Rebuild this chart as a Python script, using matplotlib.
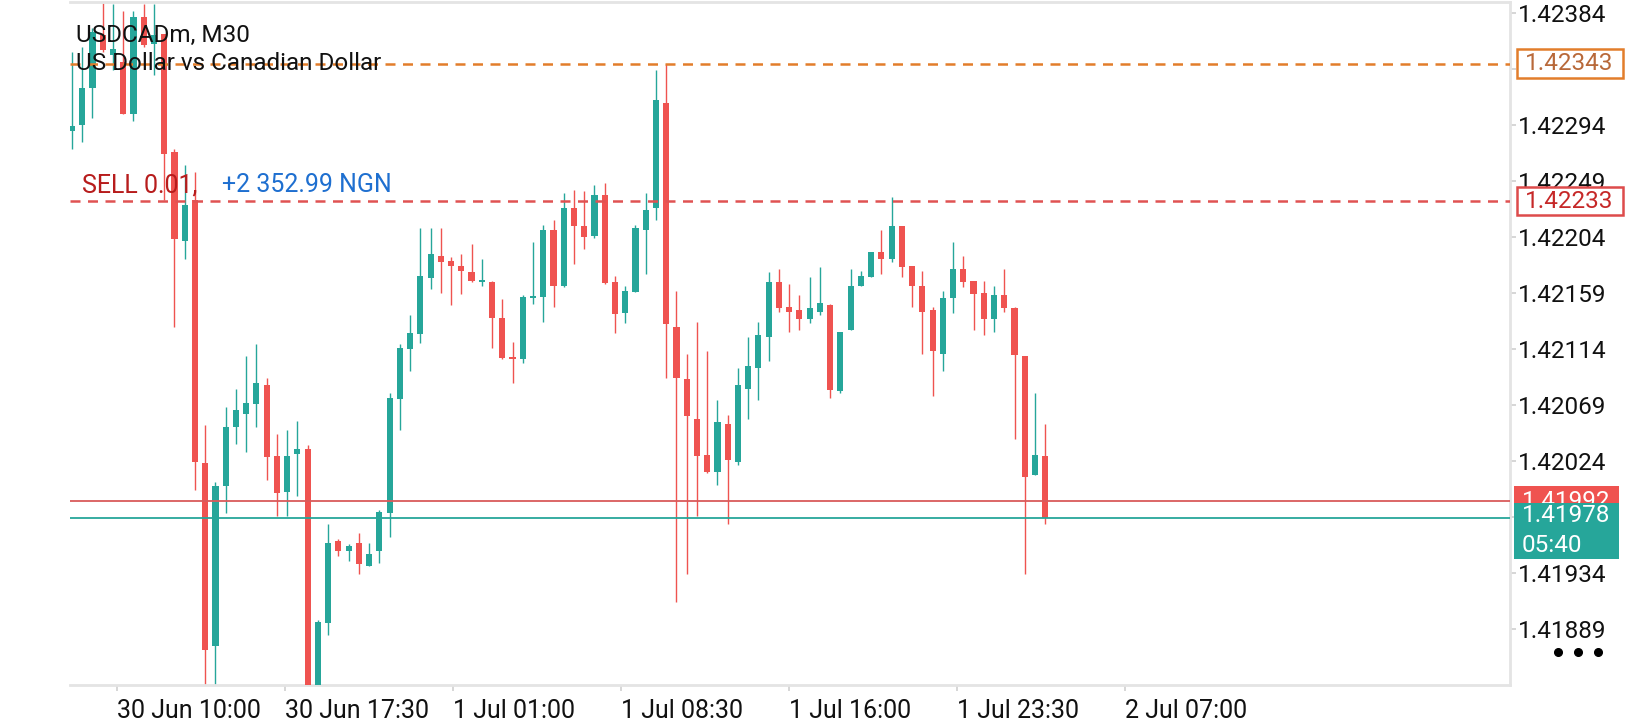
import numpy as np
import matplotlib
matplotlib.use("Agg")
import matplotlib.pyplot as plt
from matplotlib.patches import Rectangle
from matplotlib.lines import Line2D

# ---- data (USDCADm, M30) ----
opens = [
    1.42289, 1.42294, 1.42324, 1.42366, 1.42350, 1.42345, 1.42303, 1.42381, 1.42359, 1.42367,
    1.42272, 1.42201, 1.42234, 1.42022, 1.41875, 1.42004, 1.42051, 1.42062, 1.42070, 1.42085,
    1.42028, 1.41999, 1.42030, 1.42034, 1.41835, 1.41894, 1.41960, 1.41952, 1.41958, 1.41940,
    1.41952, 1.41982, 1.42074, 1.42114, 1.42126, 1.42171, 1.42189, 1.42185, 1.42181, 1.42176,
    1.42168, 1.42168, 1.42139, 1.42107, 1.42106, 1.42155, 1.42156, 1.42210, 1.42165, 1.42227,
    1.42213, 1.42205, 1.42238, 1.42168, 1.42143, 1.42160, 1.42210, 1.42227, 1.42312, 1.42132,
    1.42090, 1.42058, 1.42029, 1.42015, 1.42054, 1.42023, 1.42082, 1.42099, 1.42124, 1.42168,
    1.42148, 1.42145, 1.42138, 1.42144, 1.42149, 1.42080, 1.42129, 1.42165, 1.42172, 1.42192,
    1.42186, 1.42213, 1.42181, 1.42165, 1.42145, 1.42110, 1.42155, 1.42178, 1.42169, 1.42159,
    1.42138, 1.42157, 1.42147, 1.42108, 1.42013, 1.42028]
highs = [
    1.42353, 1.42357, 1.42372, 1.42392, 1.42391, 1.42386, 1.42386, 1.42391, 1.42391, 1.42367,
    1.42275, 1.42262, 1.42256, 1.42053, 1.42007, 1.42067, 1.42082, 1.42108, 1.42118, 1.42091,
    1.42046, 1.42049, 1.42056, 1.42037, 1.41896, 1.41973, 1.41961, 1.41957, 1.41966, 1.41958,
    1.41985, 1.42079, 1.42118, 1.42141, 1.42211, 1.42211, 1.42211, 1.42188, 1.42190, 1.42198,
    1.42186, 1.42169, 1.42154, 1.42120, 1.42157, 1.42200, 1.42214, 1.42218, 1.42239, 1.42242,
    1.42241, 1.42246, 1.42247, 1.42173, 1.42165, 1.42214, 1.42239, 1.42338, 1.42343, 1.42161,
    1.42110, 1.42136, 1.42112, 1.42073, 1.42061, 1.42099, 1.42124, 1.42136, 1.42176, 1.42178,
    1.42166, 1.42157, 1.42172, 1.42180, 1.42150, 1.42128, 1.42178, 1.42177, 1.42192, 1.42210,
    1.42236, 1.42213, 1.42181, 1.42177, 1.42148, 1.42161, 1.42200, 1.42189, 1.42169, 1.42169,
    1.42165, 1.42178, 1.42148, 1.42108, 1.42079, 1.42054]
lows = [
    1.42275, 1.42280, 1.42300, 1.42353, 1.42338, 1.42303, 1.42297, 1.42357, 1.42334, 1.42234,
    1.42132, 1.42186, 1.42001, 1.41838, 1.41840, 1.41982, 1.42038, 1.42031, 1.42051, 1.42009,
    1.41980, 1.41980, 1.41996, 1.41830, 1.41828, 1.41884, 1.41948, 1.41944, 1.41933, 1.41940,
    1.41942, 1.41963, 1.42049, 1.42096, 1.42119, 1.42162, 1.42159, 1.42149, 1.42158, 1.42168,
    1.42165, 1.42115, 1.42106, 1.42087, 1.42103, 1.42150, 1.42136, 1.42148, 1.42164, 1.42182,
    1.42194, 1.42203, 1.42166, 1.42127, 1.42135, 1.42160, 1.42174, 1.42218, 1.42091, 1.41911,
    1.41933, 1.41980, 1.42014, 1.42005, 1.41973, 1.42021, 1.42058, 1.42073, 1.42104, 1.42144,
    1.42128, 1.42129, 1.42135, 1.42141, 1.42075, 1.42079, 1.42129, 1.42165, 1.42172, 1.42174,
    1.42184, 1.42172, 1.42148, 1.42110, 1.42076, 1.42096, 1.42143, 1.42164, 1.42129, 1.42125,
    1.42128, 1.42144, 1.42042, 1.41933, 1.42013, 1.41973]
closes = [
    1.42293, 1.42324, 1.42369, 1.42354, 1.42355, 1.42303, 1.42381, 1.42358, 1.42366, 1.42271,
    1.42202, 1.42230, 1.42023, 1.41872, 1.42004, 1.42051, 1.42065, 1.42071, 1.42087, 1.42027,
    1.41998, 1.42028, 1.42034, 1.41835, 1.41895, 1.41958, 1.41952, 1.41956, 1.41941, 1.41949,
    1.41983, 1.42075, 1.42115, 1.42127, 1.42173, 1.42190, 1.42184, 1.42181, 1.42177, 1.42169,
    1.42169, 1.42139, 1.42107, 1.42106, 1.42156, 1.42156, 1.42210, 1.42165, 1.42227, 1.42213,
    1.42204, 1.42238, 1.42167, 1.42142, 1.42161, 1.42211, 1.42226, 1.42314, 1.42134, 1.42091,
    1.42060, 1.42028, 1.42015, 1.42055, 1.42025, 1.42085, 1.42100, 1.42125, 1.42168, 1.42147,
    1.42144, 1.42138, 1.42147, 1.42151, 1.42081, 1.42128, 1.42165, 1.42173, 1.42192, 1.42186,
    1.42213, 1.42180, 1.42165, 1.42144, 1.42112, 1.42155, 1.42178, 1.42168, 1.42158, 1.42138,
    1.42157, 1.42147, 1.42109, 1.42011, 1.42029, 1.41978]

time_labels = ["30 Jun 10:00", "30 Jun 17:30", "1 Jul 01:00", "1 Jul 08:30",
               "1 Jul 16:00", "1 Jul 23:30", "2 Jul 07:00"]
price_ticks = [1.42384 - 0.00045 * k for k in range(12)]

tp_price = 1.42343      # orange dashed level
open_price = 1.42233    # SELL position open
ask_price = 1.41992
bid_price = 1.41978
countdown = "05:40"
symbol = "USDCADm, M30"
description = "US Dollar vs Canadian Dollar"
position_text = "SELL 0.01,"
profit_text = "+2 352.99 NGN"

# ---- style ----
UP = "#26A69A"
DOWN = "#EF5350"
ORANGE = "#E27D2B"
RED_LINE = "#E05252"
FRAME = "#E4E4E4"
FS = 17.5

plt.rcParams["font.family"] = ["Roboto", "DejaVu Sans"]

W, H = 1640, 720
L, R, T, B = 69.5, 1510, 2, 685      # plot area in pixels


def fx(px):
    return px / W


def fy(py):
    return 1 - py / H


fig = plt.figure(figsize=(W / 100, H / 100), dpi=100)
ax = fig.add_axes([fx(L), fy(B), (R - L) / W, (B - T) / H])

o = np.array(opens)
h = np.array(highs)
lo = np.array(lows)
c = np.array(closes)
x = np.arange(len(o))
cols = np.where(c >= o, UP, DOWN)

# wicks then bodies
ax.vlines(x, lo, h, colors=cols, lw=1.0, zorder=2)
body = np.maximum(np.abs(c - o), 0.000012)
ax.bar(x, body, bottom=np.minimum(o, c), width=0.6, color=cols,
       linewidth=0, zorder=3)

# horizontal levels
ax.axhline(tp_price, color=ORANGE, lw=1.8, ls=(0, (4, 3)), zorder=4)
ax.axhline(open_price, color=RED_LINE, lw=1.8, ls=(0, (4, 3)), zorder=4)
ax.axhline(ask_price, color="#D95A5A", lw=1.3, zorder=4)
ax.axhline(bid_price, color=UP, lw=1.3, zorder=4)

# scales: 56 px per 0.00045, 1.42384 sits at y=13 px
step_px = 56.0
ax.set_ylim(1.42384 - (B - 13) / step_px * 0.00045,
            1.42384 + (13 - T) / step_px * 0.00045)
bar_px = 10.245
ax.set_xlim(-(72 - L) / bar_px, (R - 72) / bar_px)

# scale labels that sit fully under a price box are not shown
hidden = [tp_price, bid_price]
ax.yaxis.tick_right()
ax.set_yticks(price_ticks)
ax.set_yticklabels(["" if min(abs(p - q) for q in hidden) < 0.00006 else f"{p:.5f}"
                    for p in price_ticks])
ax.set_xticks([4.4 + 16.4 * k for k in range(len(time_labels))])
ax.set_xticklabels(time_labels)
for lab in ax.get_xticklabels():
    lab.set_ha("left")
ax.tick_params(axis="y", length=4.3, width=1.2, color="#D0D0D0", pad=1.5,
               labelsize=FS, labelcolor="#111111")
ax.tick_params(axis="x", length=4, width=1.2, color="#D0D0D0", pad=6,
               labelsize=FS + 0.5, labelcolor="#111111")

ax.spines["left"].set_visible(False)
for s in ("top", "right", "bottom"):
    ax.spines[s].set_color(FRAME)
    ax.spines[s].set_linewidth(2)

# header text
fig.text(fx(76), fy(42), symbol, fontsize=FS, color="#111111", va="baseline")
fig.text(fx(76), fy(70), description, fontsize=FS, color="#111111", va="baseline")
fig.text(fx(82), fy(192), position_text, fontsize=FS + 0.5, color="#B71C1C",
         va="baseline")
fig.text(fx(222), fy(192), profit_text, fontsize=FS + 0.5, color="#1E6FD0",
         va="baseline")


# price boxes on the scale
def outlined_box(y_top, y_bot, edge, txt, tcol):
    fig.add_artist(Rectangle((fx(1517), fy(y_bot)), (1623 - 1517) / W,
                             (y_bot - y_top) / H, transform=fig.transFigure,
                             facecolor="white", edgecolor=edge, lw=1.8, zorder=5))
    fig.text(fx(1569), fy((y_top + y_bot) / 2), txt, fontsize=FS, color=tcol,
             ha="center", va="center", zorder=6)


outlined_box(49, 78, ORANGE, f"{tp_price:.5f}", "#B8693A")
outlined_box(187, 215, "#DD4B4B", f"{open_price:.5f}", "#C62828")

fig.add_artist(Rectangle((fx(1514), fy(518)), (1619 - 1514) / W, 32 / H,
                         transform=fig.transFigure, facecolor=DOWN,
                         edgecolor="none", zorder=5))
fig.text(fx(1522), fy(501), f"{ask_price:.5f}", fontsize=FS, color="white",
         va="center", zorder=6)
fig.add_artist(Rectangle((fx(1514), fy(559)), (1619 - 1514) / W, 56 / H,
                         transform=fig.transFigure, facecolor=UP,
                         edgecolor="none", zorder=7))
fig.text(fx(1522), fy(516), f"{bid_price:.5f}", fontsize=FS, color="white",
         va="center", zorder=8)
fig.text(fx(1522), fy(545), countdown, fontsize=FS, color="white",
         va="center", zorder=8)

# menu dots
fig.add_artist(Line2D([fx(1558), fx(1578), fx(1598)], [fy(652)] * 3,
                      transform=fig.transFigure, ls="none", marker="o",
                      markersize=5.5, color="black", zorder=5))

fig.savefig("out.png", dpi=100, facecolor="white")
